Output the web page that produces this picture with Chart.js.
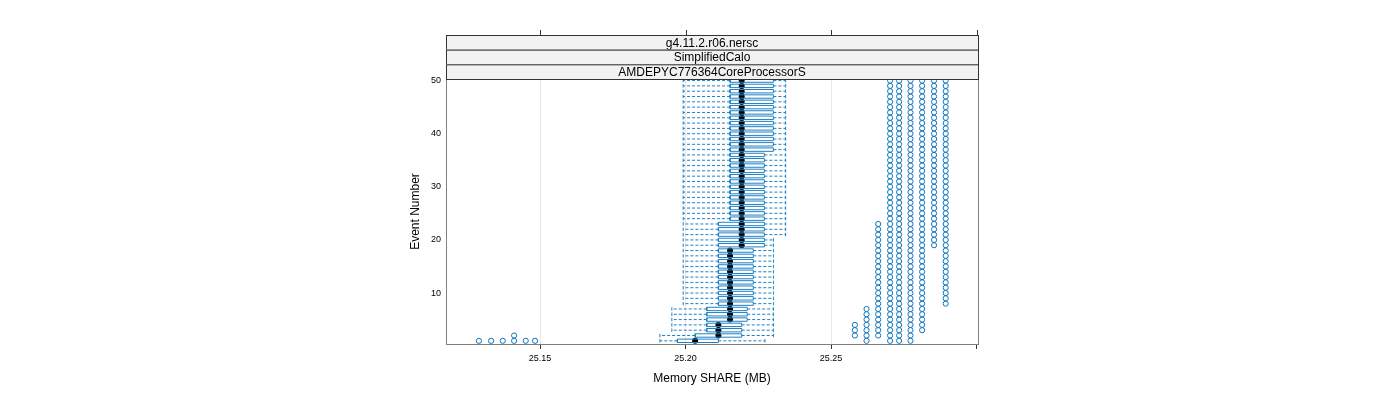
<!DOCTYPE html>
<html>
<head>
<meta charset="utf-8">
<script src="https://cdn.jsdelivr.net/npm/chart.js@4.4.1/dist/chart.umd.min.js"></script>
<style>
  body { margin: 0; background: #fff; }
  canvas { display: block; }
</style>
</head>
<body>
<canvas id="grafico" width="1400" height="400"></canvas>
<script>
// Número de evento (eje Y)
const eventos = [
  1, 2, 3, 4, 5, 6, 7, 8, 9, 10,
  11, 12, 13, 14, 15, 16, 17, 18, 19, 20,
  21, 22, 23, 24, 25, 26, 27, 28, 29, 30,
  31, 32, 33, 34, 35, 36, 37, 38, 39, 40,
  41, 42, 43, 44, 45, 46, 47, 48, 49, 50
];

// Extremo inferior del bigote (MB)
const bigoteInf = [
  25.1912, 25.1912, 25.1953, 25.1953, 25.1953, 25.1953, 25.1953, 25.1992, 25.1992, 25.1992,
  25.1992, 25.1992, 25.1992, 25.1992, 25.1992, 25.1992, 25.1992, 25.1992, 25.1992, 25.1992,
  25.1992, 25.1992, 25.1992, 25.1992, 25.1992, 25.1992, 25.1992, 25.1992, 25.1992, 25.1992,
  25.1992, 25.1992, 25.1992, 25.1992, 25.1992, 25.1992, 25.1992, 25.1992, 25.1992, 25.1992,
  25.1992, 25.1992, 25.1992, 25.1992, 25.1992, 25.1992, 25.1992, 25.1992, 25.1992, 25.1992
];

// Primer cuartil (borde izquierdo de la caja)
const q1 = [
  25.1972, 25.2033, 25.2073, 25.2073, 25.2073, 25.2073, 25.2073, 25.2113, 25.2113, 25.2113,
  25.2113, 25.2113, 25.2113, 25.2113, 25.2113, 25.2113, 25.2113, 25.2113, 25.2113, 25.2113,
  25.2113, 25.2113, 25.2113, 25.2153, 25.2153, 25.2153, 25.2153, 25.2153, 25.2153, 25.2153,
  25.2153, 25.2153, 25.2153, 25.2153, 25.2153, 25.2153, 25.2153, 25.2153, 25.2153, 25.2153,
  25.2153, 25.2153, 25.2153, 25.2153, 25.2153, 25.2153, 25.2153, 25.2153, 25.2153, 25.2153
];

// Mediana (punto negro)
const mediana = [
  25.2033, 25.2113, 25.2113, 25.2113, 25.2153, 25.2153, 25.2153, 25.2153, 25.2153, 25.2153,
  25.2153, 25.2153, 25.2153, 25.2153, 25.2153, 25.2153, 25.2153, 25.2153, 25.2193, 25.2193,
  25.2193, 25.2193, 25.2193, 25.2193, 25.2193, 25.2193, 25.2193, 25.2193, 25.2193, 25.2193,
  25.2193, 25.2193, 25.2193, 25.2193, 25.2193, 25.2193, 25.2193, 25.2193, 25.2193, 25.2193,
  25.2193, 25.2193, 25.2193, 25.2193, 25.2193, 25.2193, 25.2193, 25.2193, 25.2193, 25.2193
];

// Tercer cuartil (borde derecho de la caja)
const q3 = [
  25.2113, 25.2193, 25.2193, 25.2193, 25.2212, 25.2212, 25.2212, 25.2233, 25.2233, 25.2233,
  25.2233, 25.2233, 25.2233, 25.2233, 25.2233, 25.2233, 25.2233, 25.2233, 25.2271, 25.2271,
  25.2271, 25.2271, 25.2271, 25.2271, 25.2271, 25.2271, 25.2271, 25.2271, 25.2271, 25.2271,
  25.2271, 25.2271, 25.2271, 25.2271, 25.2271, 25.2271, 25.2302, 25.2302, 25.2302, 25.2302,
  25.2302, 25.2302, 25.2302, 25.2302, 25.2302, 25.2302, 25.2302, 25.2302, 25.2302, 25.2302
];

// Extremo superior del bigote (MB)
const bigoteSup = [
  25.2273, 25.2302, 25.2302, 25.2302, 25.2302, 25.2302, 25.2302, 25.2302, 25.2302, 25.2302,
  25.2302, 25.2302, 25.2302, 25.2302, 25.2302, 25.2302, 25.2302, 25.2302, 25.2302, 25.2302,
  25.2344, 25.2344, 25.2344, 25.2344, 25.2344, 25.2344, 25.2344, 25.2344, 25.2344, 25.2344,
  25.2344, 25.2344, 25.2344, 25.2344, 25.2344, 25.2344, 25.2344, 25.2344, 25.2344, 25.2344,
  25.2344, 25.2344, 25.2344, 25.2344, 25.2344, 25.2344, 25.2344, 25.2344, 25.2344, 25.2344
];

// Valores atípicos: valor y rango de eventos (desde..hasta) donde aparece
const atipicoValor = [25.1290, 25.1332, 25.1372, 25.1411, 25.1451, 25.1483, 25.1411,
                      25.2582, 25.2622, 25.2662, 25.2703, 25.2734, 25.2773, 25.2813, 25.2854, 25.2894];
const atipicoDesde = [1, 1, 1, 1, 1, 1, 2, 2, 1, 2, 1, 1, 1, 3, 19, 8];
const atipicoHasta = [1, 1, 1, 1, 1, 1, 2, 4, 7, 23, 50, 50, 50, 50, 50, 50];

// Ticks y textos
const ticksX = [25.15, 25.20, 25.25, 25.30];
const etiquetasX = ['25.15', '25.20', '25.25', ''];
const ticksY = [10, 20, 30, 40, 50];
const tiras = ['g4.11.2.r06.nersc', 'SimplifiedCalo', 'AMDEPYC776364CoreProcessorS'];

const azul = '#1f80c4';        // cajas y bigotes
const azulPuntos = '#0d76bd';  // atípicos
const medioAlto = 0.32;        // media altura de la caja (en unidades de evento)
const fuente = '"Liberation Sans", Arial, sans-serif';

// Construir segmentos (null corta la línea)
const corte = { x: null, y: null };
const datosBigotes = [];
const datosTopes = [];
const datosCajas = [];
const datosMediana = [];
eventos.forEach((e, i) => {
  datosBigotes.push({ x: q1[i], y: e }, { x: bigoteInf[i], y: e }, corte);
  datosBigotes.push({ x: q3[i], y: e }, { x: bigoteSup[i], y: e }, corte);
  datosTopes.push({ x: bigoteInf[i], y: e - medioAlto }, { x: bigoteInf[i], y: e + medioAlto }, corte);
  datosTopes.push({ x: bigoteSup[i], y: e - medioAlto }, { x: bigoteSup[i], y: e + medioAlto }, corte);
  datosCajas.push(
    { x: q1[i], y: e - medioAlto }, { x: q3[i], y: e - medioAlto },
    { x: q3[i], y: e + medioAlto }, { x: q1[i], y: e + medioAlto },
    { x: q1[i], y: e - medioAlto }, corte
  );
  datosMediana.push({ x: mediana[i], y: e });
});

const datosAtipicos = [];
atipicoValor.forEach((v, j) => {
  eventos.filter(e => e >= atipicoDesde[j] && e <= atipicoHasta[j])
    .forEach(e => datosAtipicos.push({ x: v, y: e }));
});

// Plugin: marco del panel, tiras superiores y ticks de arriba
const marcoPanel = {
  id: 'marcoPanel',
  afterDraw(chart) {
    const { ctx, chartArea: a, scales } = chart;
    ctx.save();
    // borde del panel
    ctx.strokeStyle = '#808080';
    ctx.lineWidth = 1;
    ctx.strokeRect(a.left + 0.5, a.top + 0.5, a.right - a.left, a.bottom - a.top);
    // tiras
    const arriba = 35;
    const alto = (a.top - arriba) / tiras.length;
    tiras.forEach((t, i) => {
      const y0 = arriba + i * alto;
      ctx.fillStyle = '#f2f2f2';
      ctx.fillRect(a.left, y0, a.right - a.left, alto);
      ctx.strokeStyle = '#333';
      ctx.strokeRect(a.left + 0.5, y0 + 0.5, a.right - a.left, alto);
      ctx.fillStyle = '#000';
      ctx.font = '12px ' + fuente;
      ctx.textAlign = 'center';
      ctx.textBaseline = 'middle';
      ctx.fillText(t, (a.left + a.right) / 2, y0 + alto / 2 + 1);
    });
    // ticks superiores
    ctx.strokeStyle = '#333';
    ticksX.forEach(v => {
      const x = Math.round(scales.x.getPixelForValue(v)) + 0.5;
      ctx.beginPath();
      ctx.moveTo(x, arriba);
      ctx.lineTo(x, arriba - 5);
      ctx.stroke();
    });
    ctx.restore();
  }
};

new Chart(document.getElementById('grafico'), {
  type: 'line',
  data: {
    datasets: [
      { data: datosBigotes, borderColor: azul, borderWidth: 1, borderDash: [3, 2], pointRadius: 0, spanGaps: false, tension: 0 },
      { data: datosTopes, borderColor: azul, borderWidth: 1, pointRadius: 0, spanGaps: false, tension: 0 },
      { data: datosCajas, borderColor: azul, borderWidth: 1, pointRadius: 0, spanGaps: false, tension: 0 },
      { data: datosMediana, showLine: false, pointRadius: 3, pointBackgroundColor: '#000', pointBorderWidth: 0 },
      { data: datosAtipicos, showLine: false, pointRadius: 2.6, pointBackgroundColor: 'rgba(0,0,0,0)',
        pointBorderColor: azulPuntos, pointBorderWidth: 1 }
    ]
  },
  options: {
    responsive: false,
    animation: false,
    layout: { padding: { left: 406, right: 422, top: 79, bottom: 0 } },
    plugins: { legend: { display: false }, tooltip: { enabled: false } },
    scales: {
      x: {
        type: 'linear',
        min: 25.1177,
        max: 25.3005,
        afterBuildTicks: s => { s.ticks = ticksX.map(v => ({ value: v })); },
        afterFit: s => { s.height = 56; },
        border: { display: false },
        grid: {
          color: c => (c.tick && c.tick.value === 25.30 ? 'rgba(0,0,0,0)' : '#e6e6e6'),
          tickColor: '#333',
          tickLength: 5,
          lineWidth: 1
        },
        ticks: {
          color: '#000',
          font: { family: fuente, size: 9 },
          padding: 4,
          maxRotation: 0,
          callback: (v, i) => etiquetasX[i]
        },
        title: {
          display: true,
          text: 'Memory SHARE (MB)',
          color: '#000',
          font: { family: fuente, size: 12 },
          padding: { top: 0, bottom: 14 }
        }
      },
      y: {
        type: 'linear',
        min: 0.4,
        max: 50.3,
        afterBuildTicks: s => { s.ticks = ticksY.map(v => ({ value: v })); },
        afterFit: s => { s.width = 40; },
        border: { display: false },
        grid: { display: false, drawTicks: false },
        ticks: {
          color: '#000',
          font: { family: fuente, size: 9 },
          padding: 5
        },
        title: {
          display: true,
          text: 'Event Number',
          color: '#000',
          font: { family: fuente, size: 12 },
          padding: { top: 2, bottom: 0 }
        }
      }
    }
  },
  plugins: [marcoPanel]
});
</script>
</body>
</html>
